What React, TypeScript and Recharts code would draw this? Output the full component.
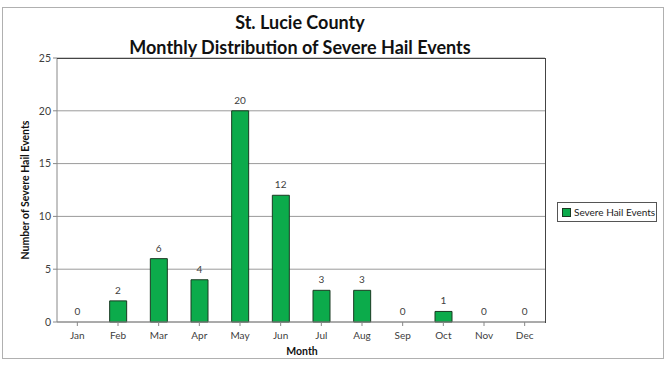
import { ComposedChart, Bar, Line, XAxis, YAxis, CartesianGrid, LabelList } from 'recharts';

// ── Data ──────────────────────────────────────────────────────────────────────

const months = ['Jan', 'Feb', 'Mar', 'Apr', 'May', 'Jun', 'Jul', 'Aug', 'Sep', 'Oct', 'Nov', 'Dec'];
const hailEvents = [0, 2, 6, 4, 20, 12, 3, 3, 0, 1, 0, 0];
const yTicks = [0, 5, 10, 15, 20, 25];

const data = months.map((m, i) => ({ month: m, events: hailEvents[i] }));

const FONT = 'Lato, "Open Sans", sans-serif';
const GREEN = '#0cab4b';

// value label above each bar, zeros included (drawn off an invisible line)
const ValueLabel = (props: any) => {
  const { x, y, value } = props;
  if (x == null || y == null) return null;
  return (
    <text
      x={Number(x)}
      y={Number(y) - 7}
      textAnchor="middle"
      style={{ fontSize: 10, fill: '#404040', fontFamily: FONT }}
    >
      {value}
    </text>
  );
};

export default function App() {
  return (
    <div style={{ position: 'fixed', left: 0, top: 0, width: 668, height: 376, background: '#fff' }}>
      {/* chart frame */}
      <div
        style={{
          position: 'absolute', left: 2, top: 7, width: 660, height: 350,
          border: '1px solid #b0b0b0',
        }}
      />
      <div
        style={{
          position: 'absolute', left: 0, top: 10, width: 600, textAlign: 'center',
          fontFamily: FONT, fontWeight: 700, fontSize: 18, lineHeight: '25px', color: '#111',
        }}
      >
        St. Lucie County
        <br />
        Monthly Distribution of Severe Hail Events
      </div>
      <div
        style={{
          position: 'absolute', left: 25, top: 190, transform: 'translate(-50%, -50%) rotate(-90deg)',
          fontFamily: FONT, fontWeight: 700, fontSize: 10.5, color: '#111', whiteSpace: 'nowrap',
        }}
      >
        Number of Severe Hail Events
      </div>
      <div
        style={{
          position: 'absolute', left: 302, top: 351, transform: 'translate(-50%, -50%)',
          fontFamily: FONT, fontWeight: 700, fontSize: 10.5, color: '#111',
        }}
      >
        Month
      </div>
      <div style={{ position: 'absolute', left: 0, top: 0 }}>
        <ComposedChart
          width={668}
          height={376}
          data={data}
          margin={{ top: 58, right: 123, left: 27, bottom: 34 }}
          barSize={17}
        >
          <CartesianGrid vertical={false} stroke="#9a9a9a" />
          <XAxis
            dataKey="month"
            tick={{ fontSize: 10, fill: '#404040', fontFamily: FONT }}
            axisLine={{ stroke: '#888' }}
            tickLine={{ stroke: '#888' }}
            tickSize={4}
            tickMargin={6}
            height={20}
          />
          <YAxis
            domain={[0, 25]}
            ticks={yTicks}
            tick={{ fontSize: 10.5, fill: '#404040', fontFamily: FONT }}
            axisLine={{ stroke: '#888' }}
            tickLine={{ stroke: '#888' }}
            tickSize={4}
            width={30}
          />
          <Bar
            dataKey="events"
            name="Severe Hail Events"
            fill={GREEN}
            stroke="#1a3a22"
            strokeWidth={1}
            isAnimationActive={false}
          />
          <Line
            dataKey="events"
            stroke="none"
            dot={false}
            activeDot={false}
            legendType="none"
            isAnimationActive={false}
          >
            <LabelList dataKey="events" content={<ValueLabel />} />
          </Line>
        </ComposedChart>
      </div>
      {/* plot frame top/right */}
      <div
        style={{
          position: 'absolute', left: 57, top: 58, width: 488, height: 264,
          borderTop: '1px solid #444', borderRight: '1px solid #444', pointerEvents: 'none',
        }}
      />
      {/* legend */}
      <div
        style={{
          position: 'absolute', left: 557, top: 202, width: 100, height: 20,
          border: '1px solid #555', fontFamily: FONT, fontSize: 10, color: '#222',
          display: 'flex', alignItems: 'center', gap: 3, paddingLeft: 4, boxSizing: 'border-box',
          background: '#fff', whiteSpace: 'nowrap',
        }}
      >
        <span style={{ flexShrink: 0, width: 7, height: 7, background: GREEN, border: '1px solid #1a3a22' }} />
        Severe Hail Events
      </div>
    </div>
  );
}
